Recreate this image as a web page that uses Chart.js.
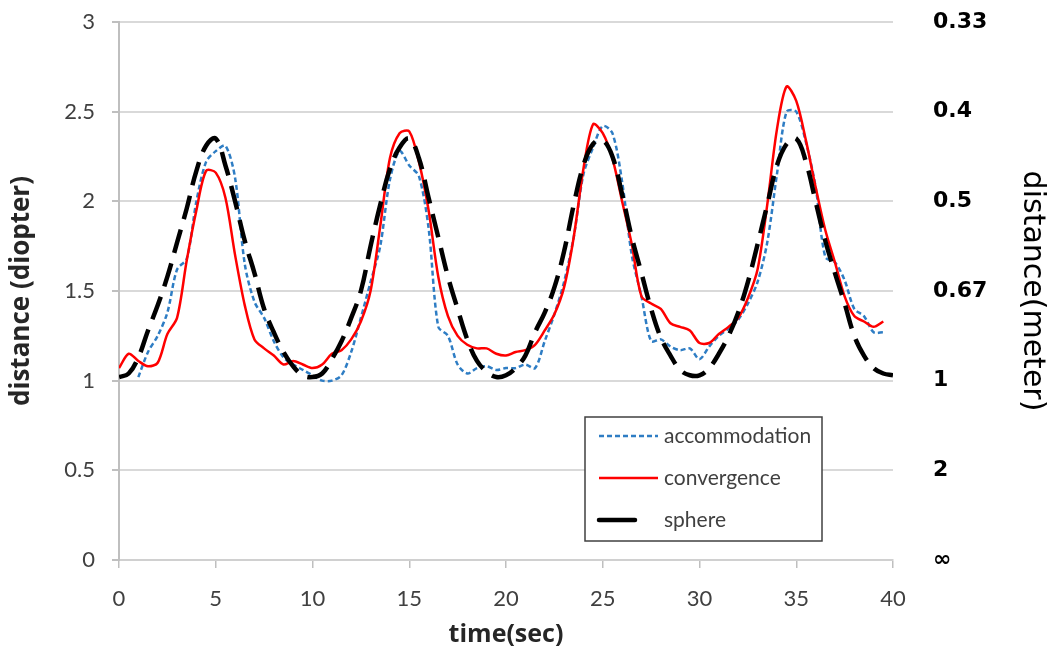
<!DOCTYPE html>
<html lang="en">
<head>
    <meta charset="UTF-8" />
    <title>accommodation / convergence / sphere</title>
    <style>
        body { margin: 0; background: #fff; }
    </style>
</head>
<body>
    <canvas id="distChart" width="1054" height="659"></canvas>

    <script src="https://cdn.jsdelivr.net/npm/chart.js@4.4.1/dist/chart.umd.min.js"></script>
    <script>
        // time axis, every 0.5 sec from 0 to 40
        const times = [];
        for (let i = 0; i <= 80; i++) times.push(i / 2);

        // values (diopter), null = no data
        const accommodation = [
            null, null, 1.02, 1.16, 1.25, 1.38, 1.62, 1.68, 2.00, 2.22,
            2.28, 2.31, 2.13, 1.65, 1.44, 1.35, 1.22, 1.13, 1.09, 1.06,
            1.03, 1.00, 1.00, 1.03, 1.16, 1.35, 1.55, 1.75, 2.12, 2.28,
            2.20, 2.14, 1.85, 1.30, 1.25, 1.09, 1.04, 1.07, 1.08, 1.06,
            1.07, 1.07, 1.09, 1.07, 1.22, 1.37, 1.55, 1.80, 2.15, 2.30,
            2.42, 2.38, 2.11, 1.70, 1.47, 1.22, 1.23, 1.19, 1.17, 1.18,
            1.12, 1.19, 1.25, 1.29, 1.34, 1.43, 1.55, 1.77, 2.15, 2.50,
            2.50, 2.33, 2.08, 1.69, 1.66, 1.56, 1.40, 1.36, 1.27, 1.27,
            null
        ];
        const convergence = [
            1.07, 1.15, 1.11, 1.08, 1.10, 1.26, 1.35, 1.67, 1.95, 2.17,
            2.16, 2.02, 1.70, 1.42, 1.23, 1.18, 1.14, 1.09, 1.11, 1.09,
            1.07, 1.09, 1.15, 1.17, 1.23, 1.33, 1.50, 1.86, 2.24, 2.38,
            2.39, 2.22, 1.95, 1.58, 1.36, 1.25, 1.20, 1.18, 1.18, 1.15,
            1.14, 1.16, 1.17, 1.20, 1.28, 1.37, 1.52, 1.80, 2.18, 2.43,
            2.38, 2.24, 2.00, 1.76, 1.47, 1.43, 1.40, 1.32, 1.30, 1.28,
            1.21, 1.21, 1.26, 1.30, 1.35, 1.46, 1.62, 1.98, 2.40, 2.64,
            2.56, 2.34, 2.08, 1.84, 1.66, 1.47, 1.36, 1.33, 1.30, 1.33,
            null
        ];
        const sphere = [
            1.02, 1.04, 1.13, 1.28, 1.42, 1.58, 1.77, 1.96, 2.17, 2.31,
            2.35, 2.20, 2.00, 1.78, 1.60, 1.40, 1.27, 1.16, 1.08, 1.03,
            1.02, 1.04, 1.12, 1.22, 1.35, 1.50, 1.75, 1.98, 2.18, 2.30,
            2.35, 2.24, 2.02, 1.80, 1.58, 1.40, 1.23, 1.11, 1.05, 1.02,
            1.03, 1.07, 1.14, 1.27, 1.38, 1.52, 1.72, 1.98, 2.20, 2.32,
            2.34, 2.25, 2.04, 1.80, 1.60, 1.40, 1.24, 1.14, 1.06, 1.03,
            1.03, 1.07, 1.15, 1.25, 1.38, 1.55, 1.76, 1.98, 2.20, 2.32,
            2.35, 2.22, 2.00, 1.78, 1.60, 1.43, 1.25, 1.14, 1.07, 1.04,
            1.03
        ];

        // tick labels, bottom to top
        const diopterLabels = ['0', '0.5', '1', '1.5', '2', '2.5', '3'];
        const meterLabels = ['∞', '2', '1', '0.67', '0.5', '0.4', '0.33'];

        const seriesNames = ['accommodation', 'convergence', 'sphere'];

        function toPoints(values) {
            return times.map((t, i) => ({ x: t, y: values[i] }));
        }

        // legend box drawn inside the plot, like the original
        const boxLegend = {
            id: 'boxLegend',
            afterDraw(chart) {
                const ctx = chart.ctx;
                ctx.save();
                ctx.setLineDash([]);
                ctx.lineDashOffset = 0;
                ctx.fillStyle = '#fff';
                ctx.fillRect(585, 417, 237, 124);
                ctx.strokeStyle = '#404040';
                ctx.lineWidth = 1.5;
                ctx.strokeRect(585, 417, 237, 124);

                const rows = [436, 478, 520];
                // legend samples: short dashes, solid red, one long black dash
                const samples = [
                    { dash: [5, 3], end: 658, cap: 'butt' },
                    { dash: [], end: 658, cap: 'butt' },
                    { dash: [], end: 635, cap: 'round' }
                ];
                chart.data.datasets.forEach((ds, i) => {
                    ctx.beginPath();
                    ctx.strokeStyle = ds.borderColor;
                    ctx.lineWidth = ds.borderWidth;
                    ctx.lineCap = samples[i].cap;
                    ctx.setLineDash(samples[i].dash);
                    ctx.moveTo(599, rows[i]);
                    ctx.lineTo(samples[i].end, rows[i]);
                    ctx.stroke();
                    ctx.setLineDash([]);
                    ctx.fillStyle = '#404040';
                    ctx.font = '21px Lato';
                    ctx.textBaseline = 'middle';
                    ctx.fillText(ds.label, 664, rows[i]);
                });
                ctx.restore();
            }
        };

        const ctx = document.getElementById('distChart').getContext('2d');
        new Chart(ctx, {
            type: 'line',
            data: {
                datasets: [{
                    label: seriesNames[0],
                    data: toPoints(accommodation),
                    borderColor: '#2e7dc4',
                    borderWidth: 2.5,
                    borderDash: [5, 3],
                    tension: 0.3,
                    order: 2
                }, {
                    label: seriesNames[1],
                    data: toPoints(convergence),
                    borderColor: '#ff0000',
                    borderWidth: 2.5,
                    tension: 0.3,
                    order: 1
                }, {
                    label: seriesNames[2],
                    data: toPoints(sphere),
                    borderColor: '#000000',
                    borderWidth: 4.5,
                    borderDash: [24, 11],
                    tension: 0.4,
                    order: 0
                }]
            },
            options: {
                responsive: false,
                animation: false,
                devicePixelRatio: 1,
                spanGaps: false,
                layout: { padding: { top: 22, left: 0, right: 0, bottom: 0 } },
                elements: { point: { radius: 0 } },
                plugins: {
                    legend: { display: false },
                    tooltip: { enabled: false }
                },
                scales: {
                    x: {
                        type: 'linear',
                        min: 0,
                        max: 40,
                        ticks: {
                            stepSize: 5,
                            padding: 18,
                            color: '#404040',
                            font: { family: 'Lato', size: 22 }
                        },
                        grid: { drawOnChartArea: false, tickLength: 8, color: '#bfbfbf', lineWidth: 1.5 },
                        border: { display: true, color: '#d0d0d0', width: 2 },
                        title: {
                            display: true,
                            text: 'time(sec)',
                            color: '#262626',
                            font: { family: 'Open Sans', size: 25, weight: 'bold' },
                            padding: { top: 0, bottom: 9 }
                        },
                        afterFit(scale) {
                            scale.height = 99;
                            scale.paddingLeft = 0;
                            scale.paddingRight = 0;
                        }
                    },
                    y: {
                        position: 'left',
                        min: 0,
                        max: 3,
                        ticks: {
                            stepSize: 0.5,
                            padding: 17,
                            color: '#404040',
                            font: { family: 'Lato', size: 22 },
                            callback: (v, i) => diopterLabels[i]
                        },
                        grid: { color: '#d9d9d9', lineWidth: 2, tickLength: 7, tickColor: '#bfbfbf' },
                        border: { display: true, color: '#bfbfbf', width: 2 },
                        title: {
                            display: true,
                            text: 'distance (diopter)',
                            color: '#262626',
                            font: { family: 'Open Sans', size: 26, weight: 'bold' },
                            padding: { top: 6, bottom: 0 }
                        },
                        afterFit(scale) {
                            scale.width = 119;
                            scale.paddingTop = 0;
                            scale.paddingBottom = 0;
                        }
                    },
                    yMeter: {
                        position: 'right',
                        min: 0,
                        max: 3,
                        ticks: {
                            stepSize: 0.5,
                            padding: 32,
                            color: '#000',
                            font: { family: 'DejaVu Sans', size: 22, weight: 'bold' },
                            callback: (v, i) => meterLabels[i]
                        },
                        grid: { display: false },
                        border: { display: false },
                        title: {
                            display: true,
                            text: 'distance(meter)',
                            color: '#000',
                            font: { family: 'DejaVu Sans', size: 30 },
                            padding: { top: 4, bottom: 0 }
                        },
                        afterFit(scale) {
                            scale.width = 161;
                            scale.paddingTop = 0;
                            scale.paddingBottom = 0;
                        }
                    }
                }
            },
            plugins: [boxLegend]
        });
    </script>
</body>
</html>
